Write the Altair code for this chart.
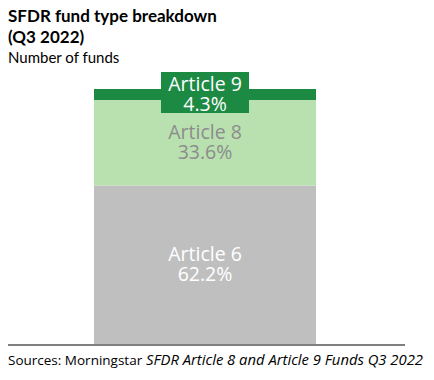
import altair as alt
import pandas as pd

categories = ["Article 6", "Article 8", "Article 9"]
shares = [62.2, 33.6, 4.3]
fill_colors = ["#bfbfbf", "#b9e1b0", "#1d8a43"]
label_colors = ["#ffffff", "#8c8c8c", "#ffffff"]

title_lines = ["SFDR fund type breakdown", "(Q3 2022)"]
subtitle = "Number of funds"
source_regular = "Sources: Morningstar"
source_italic = "SFDR Article 8 and Article 9 Funds Q3 2022"

df = pd.DataFrame({
    "category": categories,
    "share": shares,
    "order": [0, 1, 2],
    "fill": fill_colors,
    "labelColor": label_colors,
    "bar": ["SFDR"] * 3,
})
df["pct"] = [f"{v:.1f}%" for v in shares]

FONT = "Lato"
LFONT = "Open Sans"

xs = alt.X("bar:N", scale=alt.Scale(range=[86, 308], paddingInner=0, paddingOuter=0), axis=None)
ys = alt.Scale(domain=[0, 100.1], range=[336, 81])

base = alt.Chart(df).transform_stack(
    stack="share", groupby=["bar"], as_=["y0", "y1"], sort=[alt.SortField("order")]
).transform_calculate(mid="(datum.y0 + datum.y1) / 2")

bars = base.mark_bar(size=222).encode(
    x=xs,
    y=alt.Y("y0:Q", scale=ys, axis=None),
    y2="y1:Q",
    color=alt.Color("fill:N", scale=None),
)

box = alt.Chart(df[df["category"] == "Article 9"]).mark_rect(color="#1d8a43").encode(
    x=alt.value(153), x2=alt.value(241), y=alt.value(64), y2=alt.value(105)
)

def seg_label(field, dy):
    return base.mark_text(font=LFONT, fontSize=19.5, baseline="alphabetic",
                          align="center", dy=dy).encode(
        x=xs,
        y=alt.Y("mid:Q", scale=ys, axis=None),
        text=f"{field}:N",
        color=alt.Color("labelColor:N", scale=None),
    )

lab_cat = seg_label("category", -3.5)
lab_pct = seg_label("pct", 16.5)

def txt(s, x, y, size, weight="normal", style="normal", font=FONT):
    return alt.Chart(pd.DataFrame({"t": [s]})).mark_text(
        font=font, fontSize=size, fontWeight=weight, fontStyle=style, align="left",
        baseline="alphabetic", color="#000000"
    ).encode(x=alt.value(x), y=alt.value(y), text="t:N")

t1 = txt(title_lines[0], 0, 14, 17, weight="bold")
t2 = txt(title_lines[1], 0, 35, 17, weight="bold")
t3 = txt(subtitle, 0, 55, 15)
s1 = txt(source_regular, 0, 357, 13.5, font="Open Sans")
s2 = txt(source_italic, 138, 357, 14.8, style="italic", font="Open Sans")

rule = alt.Chart(pd.DataFrame({"a": [0]})).mark_rule(color="#000000", strokeWidth=1.2).encode(
    x=alt.value(0), x2=alt.value(397), y=alt.value(337)
)

chart = alt.layer(bars, box, lab_cat, lab_pct, rule, t1, t2, t3, s1, s2).properties(
    width=418, height=364, padding=0, autosize=alt.AutoSizeParams(type="none"),
    background="#ffffff",
).configure_view(stroke=None)

chart.save("out.html", embed_options={"renderer": "svg", "actions": False})
